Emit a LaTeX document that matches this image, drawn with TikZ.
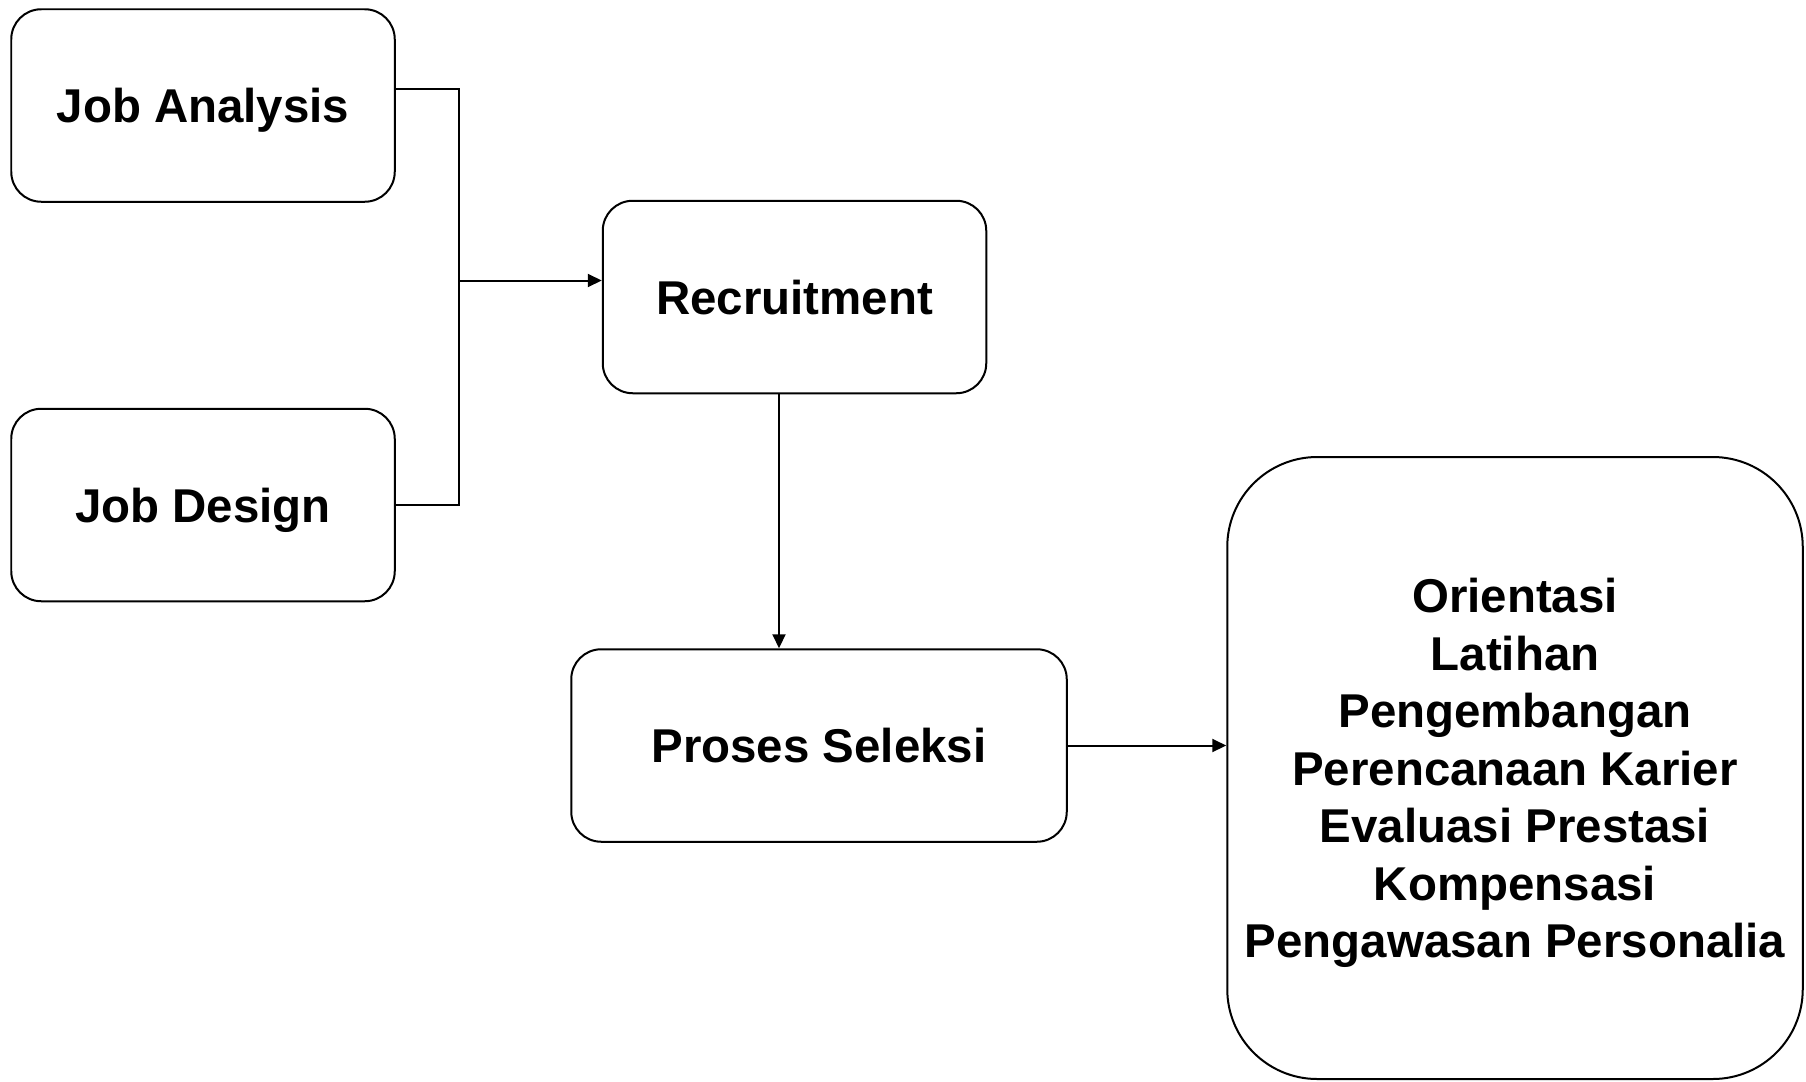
\documentclass[tikz,border=0pt]{standalone}
\usepackage{fontspec}
\setmainfont{Liberation Sans}
\usetikzlibrary{arrows.meta,calc}
\tikzset{
        every path/.style={line width=0.04cm},
        stage/.style={draw=black, rounded corners=0.6cm, minimum width=7.67cm, minimum height=3.85cm,
          font=\fontsize{27}{32.7}\selectfont\bfseries, align=center, inner sep=0pt, text depth=0pt},
        bigstage/.style={stage, rounded corners=1.8cm, minimum width=11.51cm, minimum height=12.44cm},
        flow/.style={-{Triangle[length=0.28cm, width=0.26cm]}}
          }
\begin{document}
\begin{tikzpicture}
        \useasboundingbox (0,0) rectangle (36.12,-21.62);
        \node[stage] (analysis) at (4.06,-2.11) {Job Analysis};
        \node[stage] (design) at (4.06,-10.1) {Job Design};
        \node[stage] (recruit) at (15.89,-5.94) {Recruitment};
        \node[stage, minimum width=9.91cm] (seleksi) at (16.38,-14.91) {Proses Seleksi};
        \node[bigstage] (lanjut) at (30.3,-15.36) {Orientasi\\Latihan\\Pengembangan\\Perencanaan Karier\\Evaluasi Prestasi\\Kompensasi\\Pengawasan Personalia};
        % joining line
        \coordinate (jtop) at (9.18,-1.78);
        \coordinate (jbot) at (9.18,-10.09);
        \coordinate (jmid) at (9.18,-5.61);
        \coordinate (rdown) at (15.58,0);
        \draw (analysis.east |- jtop) -- (jtop) -- (jbot) -- (design.east |- jbot);
        \draw[flow] (jmid) -- (jmid -| recruit.west);
        \draw[flow] (rdown |- recruit.south) -- (rdown |- seleksi.north);
        \draw[flow] (seleksi.east) -- (seleksi.east -| lanjut.west);
      \end{tikzpicture}
\end{document}
